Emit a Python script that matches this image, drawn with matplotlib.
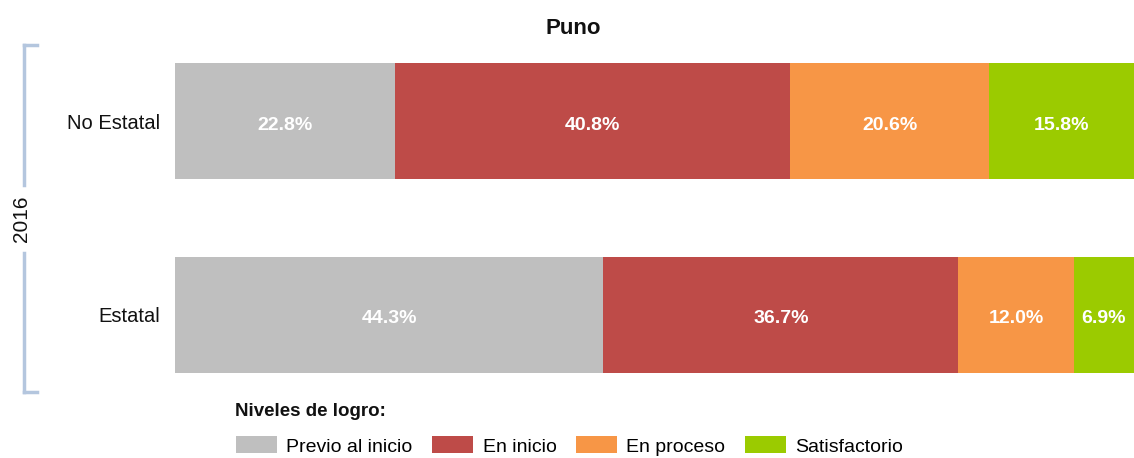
import matplotlib
matplotlib.use("Agg")
import matplotlib.pyplot as plt
from matplotlib.patches import Patch
from matplotlib.lines import Line2D

REG = "Liberation Sans"

categories = ["Estatal", "No Estatal"]
levels = ["Previo al inicio", "En inicio", "En proceso", "Satisfactorio"]
previo = [44.3, 22.8]
inicio = [36.7, 40.8]
proceso = [12.0, 20.6]
satisf = [6.9, 15.8]
year_label = "2016"
title = "Puno"
colors = ["#bfbfbf", "#be4b48", "#f79646", "#9bcb00"]

W, H = 1134, 458
fig = plt.figure(figsize=(W / 100, H / 100), dpi=100)
ax = fig.add_axes([175 / W, (H - 373) / H, 967 / W, 310 / H])
series = [previo, inicio, proceso, satisf]
ypos = list(range(len(categories)))
left = [0.0] * len(categories)
for vals, col in zip(series, colors):
    ax.barh(ypos, vals, left=left, height=0.6, color=col, edgecolor="none")
    for y, v, l in zip(ypos, vals, left):
        cx = l + v / 2
        if l + v > 98:
            cx = (l + 99.1) / 2
        ax.text(cx, y - 0.02, f"{v:.1f}%", ha="center", va="center",
                color="white", fontsize=14, fontweight="bold", family=REG)
    left = [a + b for a, b in zip(left, vals)]
ax.set_xlim(0, 100)
ax.set_ylim(-0.3, 1.3)
ax.set_yticks(ypos)
ax.set_yticklabels(categories, family=REG, fontsize=14.5, color="#111111",
                   va="center_baseline")
ax.tick_params(axis="y", length=0, pad=11)
ax.set_xticks([])
for s in ax.spines.values():
    s.set_visible(False)

fx = lambda x: x / W
fy = lambda y: 1 - y / H

fig.text(fx(573), fy(29), title, ha="center", va="center",
         fontsize=16, fontweight="bold", family=REG, color="#111111")

# year bracket
bc = "#b4c6de"
for seg in [((24, 24), (45, 185)), ((24, 24), (253, 392)),
            ((24, 37), (45, 45)), ((24, 37), (392, 392))]:
    fig.add_artist(Line2D([fx(seg[0][0]), fx(seg[0][1])],
                          [fy(seg[1][0]), fy(seg[1][1])], color=bc, lw=2.5))
fig.text(fx(21), fy(219), year_label, rotation=90, ha="center", va="center",
         fontsize=15, family=REG, color="#111111")

# legend
fig.text(fx(235), fy(411), "Niveles de logro:", ha="left", va="center",
         fontsize=13.5, fontweight="bold", family=REG, color="#111111")
handles = [Patch(facecolor=c, edgecolor="none", label=l) for c, l in zip(colors, levels)]
fig.legend(handles=handles, loc="center left", bbox_to_anchor=(fx(228), fy(446)),
           ncol=4, frameon=False, handlelength=2.1, handleheight=0.95,
           handletextpad=0.5, columnspacing=1.0, borderaxespad=0,
           prop={"family": REG, "size": 14})

fig.savefig("out.png", dpi=100)
